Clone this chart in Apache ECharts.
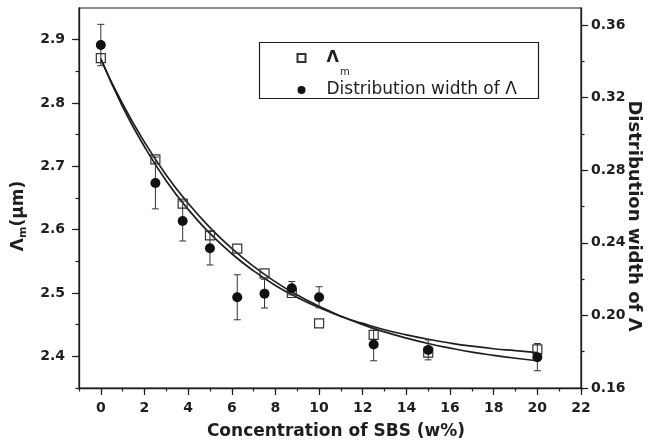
<!DOCTYPE html>
<html>
<head>
<meta charset="utf-8">
<title>Lambda m vs SBS</title>
<script src="https://cdn.jsdelivr.net/npm/echarts@6/dist/echarts.min.js"></script>
</head>
<body style="margin:0;background:#fff;">
<div id="main" style="width:649px;height:448px;"></div>
<script type="text/javascript">
// measured points
var sbs = [0, 2.5, 3.75, 5, 6.25, 7.5, 8.75, 10, 12.5, 15, 20];
var lambdaM = [2.871, 2.711, 2.641, 2.591, 2.570, 2.531, 2.500, 2.452, 2.434, 2.406, 2.411];
var distWidth = [0.349, 0.273, 0.252, 0.237, 0.210, 0.212, 0.215, 0.210, 0.184, 0.181, 0.177];
var distErr = [0.0114, 0.0143, 0.011, 0.0092, 0.0124, 0.0079, 0.0037, 0.0058, 0.009, 0.0055, 0.0075];

// fitted curves
var fitX = [0, 1, 2, 3, 4, 5, 6, 7, 8, 9, 10, 11, 12, 13, 14, 15, 16, 17, 18, 19, 20];
var fitLambda = [2.870, 2.794, 2.731, 2.677, 2.632, 2.594, 2.562, 2.535, 2.512, 2.493, 2.477,
                 2.463, 2.452, 2.442, 2.434, 2.427, 2.421, 2.416, 2.412, 2.409, 2.406];
var fitWidth = [0.341, 0.3165, 0.2955, 0.2773, 0.2618, 0.2484, 0.2369, 0.2270, 0.2185, 0.2112, 0.2050,
                0.1996, 0.1949, 0.1909, 0.1875, 0.1845, 0.1820, 0.1798, 0.1780, 0.1764, 0.1750];

// tick labels
var xMajor = [0, 2, 4, 6, 8, 10, 12, 14, 16, 18, 20, 22];
var leftMajor = [2.4, 2.5, 2.6, 2.7, 2.8, 2.9];
var rightMajor = [0.16, 0.20, 0.24, 0.28, 0.32, 0.36];

var ink = '#1e1e1e';
var tickFont = {fontFamily: 'DejaVu Sans', fontWeight: 'bold', fontSize: 14, color: ink};

function pairs(xs, ys) {
    return xs.map(function (x, i) { return [x, ys[i]]; });
}

var errData = sbs.map(function (x, i) {
    return [x, distWidth[i] - distErr[i], distWidth[i] + distErr[i]];
});

var myChart = echarts.init(document.getElementById('main'));

var option = {
    animation: false,
    backgroundColor: '#fff',
    grid: {left: 79, right: 68, top: 8, bottom: 60, show: true, borderColor: ink, borderWidth: 1.2,
           outerBoundsMode: 'none', containLabel: false},
    graphic: [{
        type: 'rect',
        shape: {x: 259.5, y: 42.5, width: 279, height: 56},
        style: {fill: 'none', stroke: ink, lineWidth: 1.2},
        z: 10
    }],
    legend: {
        data: ['Λm', 'Distribution width of Λ'],
        orient: 'vertical',
        left: 296.5,
        top: 50,
        padding: 0,
        itemGap: 4.5,
        itemWidth: 8,
        itemHeight: 8,
        formatter: function (name) {
            if (name === 'Λm') return '{b|Λ}{s|m}';
            return '{t|' + name + '}';
        },
        textStyle: {
            fontFamily: 'DejaVu Sans', fontSize: 17, color: ink,
            rich: {
                b: {fontFamily: 'DejaVu Sans', fontWeight: 'bold', fontSize: 16, color: ink, padding: [0, 0, 0, 16]},
                s: {fontFamily: 'DejaVu Sans', fontSize: 10, color: ink, verticalAlign: 'bottom', padding: [28, 0, 0, 1]},
                t: {fontFamily: 'DejaVu Sans', fontSize: 17, color: ink, lineHeight: 20, padding: [0, 0, 0, 16]}
            }
        }
    },
    xAxis: [{
        type: 'value',
        min: -1,
        max: 22,
        interval: 1,
        name: 'Concentration of SBS (w%)',
        nameLocation: 'middle',
        nameGap: 35,
        nameMoveOverlap: false,
        nameTextStyle: {fontFamily: 'DejaVu Sans', fontWeight: 'bold', fontSize: 17, color: ink, padding: [0, 0, 0, 12]},
        axisLine: {onZero: false, lineStyle: {color: ink, width: 1.3}},
        axisTick: {inside: false, length: 3.5, lineStyle: {color: ink, width: 1.2}},
        axisLabel: Object.assign({
            margin: 13,
            formatter: function (v) { return v % 2 === 0 ? String(v) : ''; }
        }, tickFont),
        splitLine: {show: false}
    }, {
        type: 'value',
        position: 'bottom',
        min: -1,
        max: 22,
        axisLine: {show: false, onZero: false},
        axisTick: {customValues: xMajor, length: 7, lineStyle: {color: ink, width: 1.2}},
        axisLabel: {show: false},
        splitLine: {show: false}
    }],
    yAxis: [{
        type: 'value',
        position: 'left',
        min: 2.35,
        max: 2.95,
        interval: 0.05,
        name: '{b|Λ}{s|m}{b|(μm)}',
        nameLocation: 'middle',
        nameGap: 50,
        nameRotate: 90,
        nameMoveOverlap: false,
        nameTextStyle: {
            padding: [0, 36, 0, 0],
            rich: {
                b: {fontFamily: 'DejaVu Sans', fontWeight: 'bold', fontSize: 17, color: ink},
                s: {fontFamily: 'DejaVu Sans', fontWeight: 'bold', fontSize: 11, color: ink, verticalAlign: 'bottom', padding: [10, 0, 0, 0]}
            }
        },
        axisLine: {show: true, onZero: false, lineStyle: {color: ink, width: 1.3}},
        axisTick: {show: true, length: 3.5, lineStyle: {color: ink, width: 1.2}},
        axisLabel: Object.assign({
            margin: 14,
            showMaxLabel: false,
            formatter: function (v) {
                return Math.round(v * 100) % 10 === 0 ? v.toFixed(1) : '';
            }
        }, tickFont),
        splitLine: {show: false}
    }, {
        type: 'value',
        position: 'right',
        min: 0.16,
        max: 0.3694,
        interval: 0.02,
        name: 'Distribution width of Λ',
        nameLocation: 'middle',
        nameGap: 44,
        nameRotate: -90,
        nameMoveOverlap: false,
        nameTextStyle: {fontFamily: 'DejaVu Sans', fontWeight: 'bold', fontSize: 18, color: ink, padding: [0, 0, 0, 36]},
        axisLine: {show: true, onZero: false, lineStyle: {color: ink, width: 1.3}},
        axisTick: {show: true, length: 3.5, lineStyle: {color: ink, width: 1.2}},
        axisLabel: Object.assign({
            margin: 10,
            showMaxLabel: false,
            formatter: function (v) {
                return Math.round(v * 100) % 4 === 0 ? v.toFixed(2) : '';
            }
        }, tickFont),
        splitLine: {show: false}
    }, {
        type: 'value',
        position: 'left',
        min: 2.35,
        max: 2.95,
        axisLine: {show: false, onZero: false},
        axisTick: {show: true, customValues: leftMajor, length: 7, lineStyle: {color: ink, width: 1.2}},
        axisLabel: {show: false},
        splitLine: {show: false}
    }, {
        type: 'value',
        position: 'right',
        min: 0.16,
        max: 0.3694,
        axisLine: {show: false, onZero: false},
        axisTick: {show: true, customValues: rightMajor, length: 7, lineStyle: {color: ink, width: 1.2}},
        axisLabel: {show: false},
        splitLine: {show: false}
    }],
    series: [{
        name: 'fit Λm',
        type: 'line',
        yAxisIndex: 0,
        smooth: true,
        symbol: 'none',
        lineStyle: {color: ink, width: 1.7},
        data: pairs(fitX, fitLambda),
        z: 2
    }, {
        name: 'fit width',
        type: 'line',
        yAxisIndex: 1,
        smooth: true,
        symbol: 'none',
        lineStyle: {color: ink, width: 1.7},
        data: pairs(fitX, fitWidth),
        z: 2
    }, {
        name: 'Λm',
        type: 'scatter',
        yAxisIndex: 0,
        symbol: 'rect',
        symbolSize: 9,
        itemStyle: {color: 'rgba(255,255,255,0)', borderColor: '#333', borderWidth: 1.2, opacity: 1},
        data: pairs(sbs, lambdaM),
        z: 3
    }, {
        name: 'error',
        type: 'custom',
        yAxisIndex: 1,
        encode: {x: 0, y: [1, 2]},
        renderItem: function (params, api) {
            var x = api.value(0);
            var hi = api.coord([x, api.value(2)]);
            var lo = api.coord([x, api.value(1)]);
            var c = 3.5;
            var st = {stroke: '#333', lineWidth: 1};
            return {
                type: 'group',
                children: [
                    {type: 'line', shape: {x1: hi[0], y1: hi[1], x2: lo[0], y2: lo[1]}, style: st},
                    {type: 'line', shape: {x1: hi[0] - c, y1: hi[1], x2: hi[0] + c, y2: hi[1]}, style: st},
                    {type: 'line', shape: {x1: lo[0] - c, y1: lo[1], x2: lo[0] + c, y2: lo[1]}, style: st}
                ]
            };
        },
        data: errData,
        z: 4
    }, {
        name: 'Distribution width of Λ',
        type: 'scatter',
        yAxisIndex: 1,
        symbol: 'circle',
        symbolSize: 10,
        itemStyle: {color: '#111', opacity: 1},
        data: pairs(sbs, distWidth),
        z: 5
    }]
};

myChart.setOption(option);
</script>
</body>
</html>
